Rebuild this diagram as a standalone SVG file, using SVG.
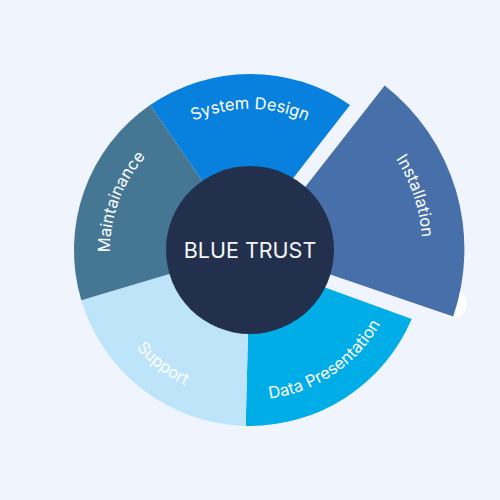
<svg xmlns="http://www.w3.org/2000/svg" width="500" height="500" viewBox="0 0 500 500">
<style>
.lbl{font-family:Inter,"Liberation Sans",sans-serif;font-size:16.5px;fill:#ffffff;text-anchor:middle}
.ctr{font-family:Inter,"Liberation Sans",sans-serif;font-size:21.5px;fill:#f3f6fb;text-anchor:middle}
</style>
<defs>
<path id="p-sys" d="M127.9,179.5 A141,141 0 0 1 372.1,179.5"/>
<path id="p-ins" d="M289.5,86.5 A166,166 0 0 1 380.7,359.2"/>
<path id="p-dat" d="M184.2,384.8 A150,150 0 0 0 399.6,239.5"/>
<path id="p-sup" d="M101.2,230.7 A150,150 0 0 0 307.6,388.5"/>
<path id="p-mai" d="M142.1,339.2 A140,140 0 0 1 226.6,112"/>
</defs>
<rect width="500" height="500" fill="#f0f5fd"/>
<circle cx="453" cy="304" r="14" fill="#ffffff"/>
<g id="system-design">
<path d="M250,250 L150.1,105.1 A176,176 0 0 1 350,105 L270,208 Z" fill="#0880dd"/>
<text class="lbl"><textPath href="#p-sys" startOffset="50%">System Design</textPath></text>
</g>
<g id="installation">
<path d="M256.4,249.2 L384.7,85.5 A208,208 0 0 1 453.2,316.6 Z" fill="#476fa9"/>
<text class="lbl"><textPath href="#p-ins" startOffset="50%">Installation</textPath></text>
</g>
<g id="data-presentation">
<path d="M250,250 L298.9,278.1 L411.7,319 A176,176 0 0 1 245.7,425.9 Z" fill="#01ade7"/>
<text class="lbl"><textPath href="#p-dat" startOffset="50%">Data Presentation</textPath></text>
</g>
<g id="support">
<path d="M250,250 L245.7,425.9 A176,176 0 0 1 81.3,300.3 Z" fill="#bde4f9"/>
<text class="lbl"><textPath href="#p-sup" startOffset="50%">Support</textPath></text>
</g>
<g id="maintainance">
<path d="M250,250 L81.3,300.3 A176,176 0 0 1 150.1,105.1 Z" fill="#457795"/>
<text class="lbl"><textPath href="#p-mai" startOffset="50%">Maintainance</textPath></text>
</g>
<g id="center">
<circle cx="250" cy="250" r="84" fill="#23304d"/>
<text class="ctr" x="250" y="257.7">BLUE TRUST</text>
</g>
<g id="connectors"></g>
</svg>
